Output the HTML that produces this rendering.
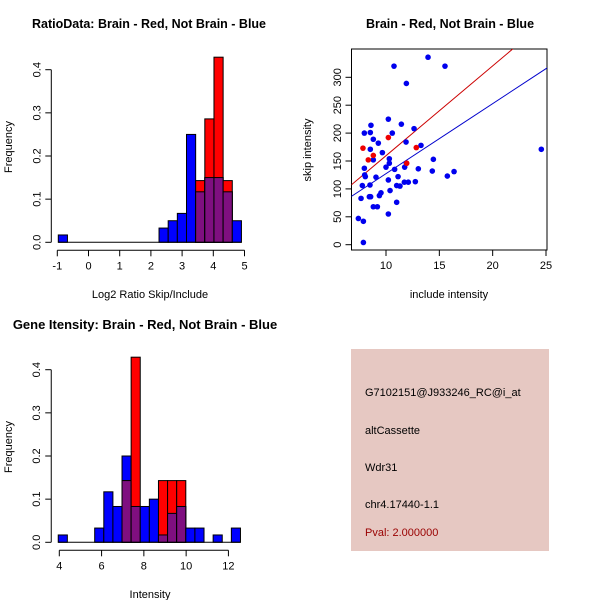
<!DOCTYPE html>
<html><head><meta charset="utf-8"><style>
body{margin:0;background:#fff;}
svg{display:block;font-family:"Liberation Sans",sans-serif;}
</style></head><body>
<svg id="c" width="600" height="600"></svg>
<script>
// Panel 1: ratio histogram
const ratioBinStart = -0.968, ratioBinW = 0.2935;
const ratioBlue = [0.017,0,0,0,0,0,0,0,0,0,0,0.033,0.05,0.067,0.25,0.117,0.15,0.15,0.117,0.05];
const ratioRed  = [0,0,0,0,0,0,0,0,0,0,0,0,0,0,0,0.143,0.286,0.429,0.143,0];
const ratioXTicks = [-1,0,1,2,3,4,5];
const freqTicks = [0,0.1,0.2,0.3,0.4];
// Panel 3: intensity histogram
const intBinStart = 3.95, intBinW = 0.431;
const intBlue = [0.017,0,0,0,0.033,0.117,0.083,0.2,0.083,0.083,0.1,0.017,0.067,0.083,0.033,0.033,0,0.017,0,0.033];
const intRed  = [0,0,0,0,0,0,0,0.143,0.429,0,0,0.143,0.143,0.143,0,0,0,0,0,0];
const intXTicks = [4,6,8,10,12];
// Panel 2: scatter
const blueX = [7.41,7.88,7.88,7.66,7.78,7.97,7.97,8.06,8.0,8.5,8.44,8.56,8.53,8.53,8.59,8.81,8.81,8.81,9.19,9.06,9.28,9.38,9.53,9.66,10,10.22,10.22,10.22,10.31,10.31,10.38,10.59,10.75,10.81,11,11,11.13,11.31,11.44,11.72,11.75,11.88,11.91,11.91,12.09,12.63,12.75,13.03,13.28,13.94,14.34,14.44,15.53,15.75,16.38,24.56];
const blueY = [47,42,4,83,106,137,200,122,125,107,86,86,171,201,214,189,152,68,68,121,182,88,93,165,139,225,116,55,154,146,97,200,320,135,106,76,122,105,216,112,139,184,289,146,112,208,113,136,178,336,132,153,320,123,131,171];
const redX = [7.84,8.34,8.81,10.22,12.84,11.94];
const redY = [173,152,160,192,174,146];
const redLine = [16.1,-1.5];   // slope, intercept
const blueLine = [12.55,1.8];
const scXTicks = [10,15,20,25];
const scYTicks = [0,50,100,150,200,250,300];

const NS="http://www.w3.org/2000/svg", svg=document.getElementById('c');
function el(t,a,p){const e=document.createElementNS(NS,t);for(const k in a)e.setAttribute(k,a[k]);(p||svg).appendChild(e);return e;}
function txt(x,y,s,a,p){const e=el('text',Object.assign({x:x,y:y,'font-size':11,fill:'#000','text-anchor':'middle'},a||{}),p);e.textContent=s;return e;}

function hist(g,xs,ys,start,w,blue,red,xt,xmin,xmax){
  for(let i=0;i<blue.length;i++){
    const x0=xs(start+i*w),x1=xs(start+(i+1)*w);
    if(blue[i]>0){const r=el('rect',{x:x0,y:ys(blue[i]),width:x1-x0,height:ys(0)-ys(blue[i]),fill:'#0000ff',stroke:'#000','stroke-width':1},g);
      
      }
    if(red[i]>0){const r=el('rect',{x:x0,y:ys(red[i]),width:x1-x0,height:ys(0)-ys(red[i]),fill:'#ff0000',stroke:'#000','stroke-width':1},g);
      
      }
    const m=Math.min(blue[i],red[i]);
    if(m>0){const r=el('rect',{x:x0,y:ys(m),width:x1-x0,height:ys(0)-ys(m),fill:'#7f0f80',stroke:'#000','stroke-width':1},g);
      
      }
  }
  el('line',{x1:xs(start),x2:xs(start+blue.length*w),y1:ys(0),y2:ys(0),stroke:'#000'},g);
  const ya=ys(0)+8;
  el('line',{x1:xs(xmin),x2:xs(xmax),y1:ya,y2:ya,stroke:'#000'},g);
  xt.forEach(v=>{el('line',{x1:xs(v),x2:xs(v),y1:ya,y2:ya+6,stroke:'#000'},g);txt(xs(v),ya+19,String(v),{},g);});
  const xl=xs(start)-7;
  el('line',{x1:xl,x2:xl,y1:ys(0),y2:ys(0.4),stroke:'#000'},g);
  freqTicks.forEach(v=>{el('line',{x1:xl,x2:xl-6,y1:ys(v),y2:ys(v),stroke:'#000'},g);txt(xl-11,ys(v),v.toFixed(1),{transform:`rotate(-90 ${xl-11} ${ys(v)})`},g);});
}
// panel 1
let g=el('g',{});
hist(g,v=>57.3+(v+1)*31.2,v=>242.3-v*431.5,ratioBinStart,ratioBinW,ratioBlue,ratioRed,ratioXTicks,-1,5);
txt(149,28,'RatioData: Brain - Red, Not Brain - Blue',{'font-weight':'bold','font-size':12.5},g);
txt(150,298,'Log2 Ratio Skip/Include',{},g);
txt(12,147,'Frequency',{transform:'rotate(-90 12 147)'},g);
// panel 3
g=el('g',{});
hist(g,v=>59.3+(v-4)*21.14,v=>542.3-v*431.5,intBinStart,intBinW,intBlue,intRed,intXTicks,4,12);
txt(145,329,'Gene Itensity: Brain - Red, Not Brain - Blue',{'font-weight':'bold','font-size':13},g);
txt(150,598,'Intensity',{},g);
txt(12,447,'Frequency',{transform:'rotate(-90 12 447)'},g);
// panel 2 scatter
g=el('g',{});
const sx=v=>386+(v-10)*10.667, sy=v=>244.7-v*0.558;
el('rect',{x:351.5,y:49,width:195.5,height:201,fill:'none',stroke:'#000'},g);
el('clipPath',{id:'cp'},g);
el('rect',{x:351.5,y:49,width:195.5,height:201},document.getElementById('cp'));
const lg=el('g',{'clip-path':'url(#cp)'},g);
[[redLine,'#cc0000','red-regression-line'],[blueLine,'#0000cc','blue-regression-line']].forEach(([l,c,n])=>{
  const x0=5,x1=27;const ln=el('line',{x1:sx(x0),y1:sy(l[0]*x0+l[1]),x2:sx(x1),y2:sy(l[0]*x1+l[1]),stroke:c},lg);
  
  
});
blueX.forEach((x,i)=>{const c=el('circle',{cx:sx(x),cy:sy(blueY[i]),r:2.8,fill:'#0000ee'},g);
  
  });
redX.forEach((x,i)=>{const c=el('circle',{cx:sx(x),cy:sy(redY[i]),r:2.8,fill:'#ee0000'},g);
  
  });
scXTicks.forEach(v=>{el('line',{x1:sx(v),x2:sx(v),y1:250,y2:256,stroke:'#000'},g);txt(sx(v),269,String(v),{},g);});
scYTicks.forEach(v=>{el('line',{x1:351.5,x2:345.5,y1:sy(v),y2:sy(v),stroke:'#000'},g);txt(341,sy(v),String(v),{transform:`rotate(-90 341 ${sy(v)})`},g);});
txt(450,28,'Brain - Red, Not Brain - Blue',{'font-weight':'bold','font-size':12.5},g);
txt(449,298,'include intensity',{},g);
txt(311,150,'skip intensity',{transform:'rotate(-90 311 150)'},g);
// info box
g=el('g',{});
el('rect',{x:351,y:349,width:198,height:202,fill:'#e6c8c2'},g);
[['G7102151@J933246_RC@i_at',396,'probe-id'],['altCassette',434,'event-type'],['Wdr31',471,'gene-name'],['chr4.17440-1.1',508,'location']].forEach(([s,y,n])=>{
  const t=txt(365,y,s,{'text-anchor':'start'},g);});
const pv=txt(365,536,'Pval: 2.000000',{'text-anchor':'start',fill:'#990000'},g);


</script>
</body></html>
